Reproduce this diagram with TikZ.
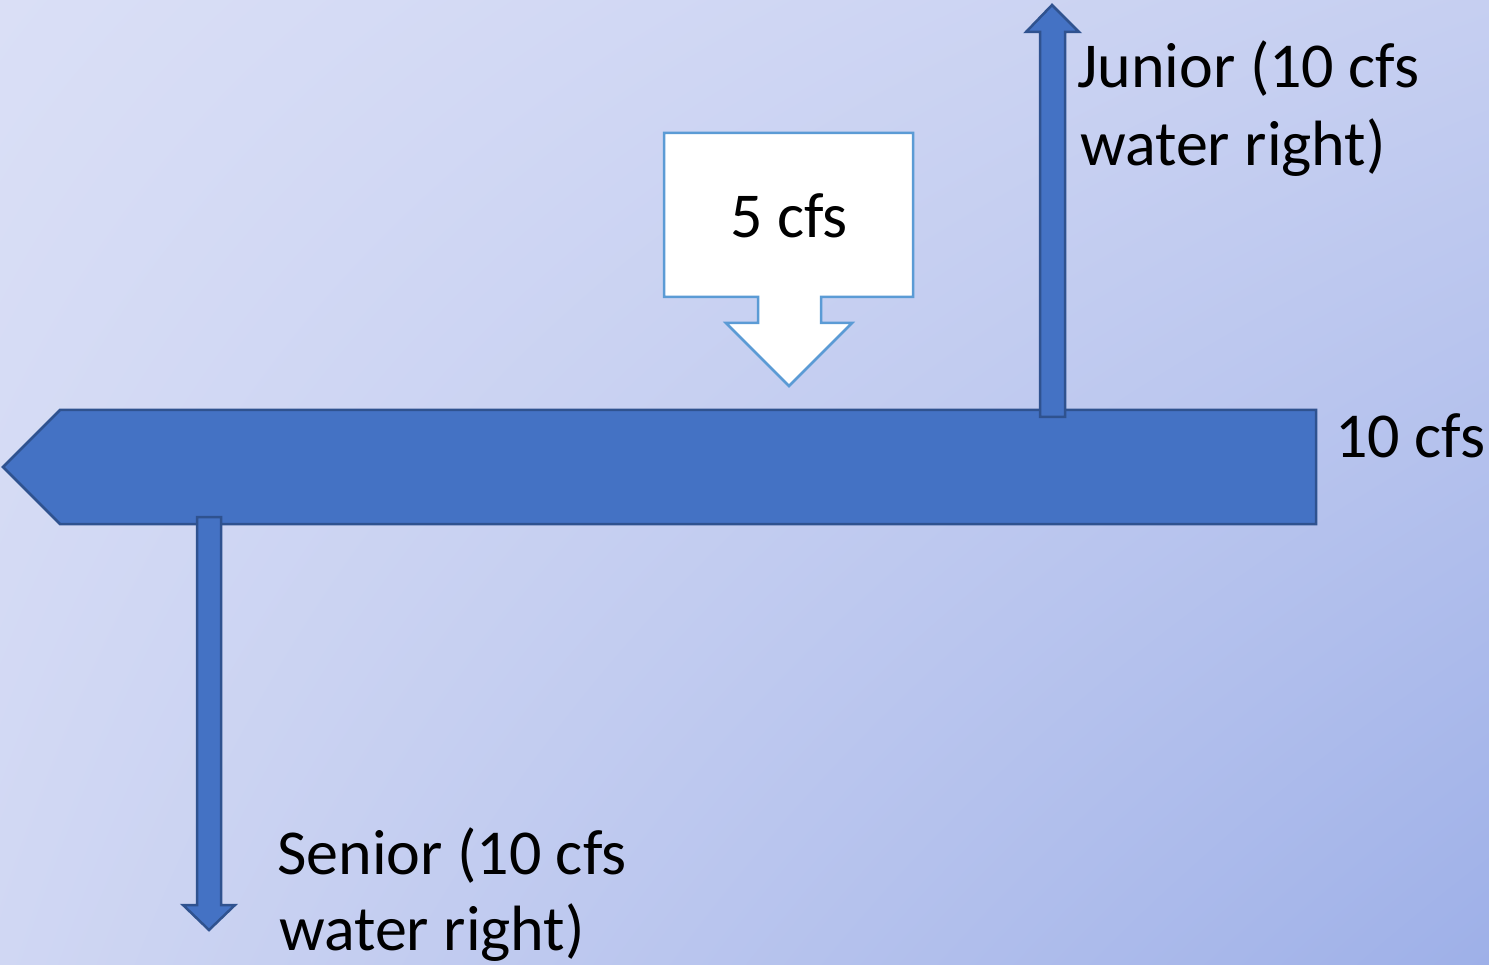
\documentclass[tikz,border=0pt]{standalone}
\usepackage{fontspec}
\setmainfont{Carlito}
\usetikzlibrary{shadings}
\definecolor{bgTL}{HTML}{DADFF6}
\definecolor{bgTR}{HTML}{C6CFF1}
\definecolor{bgBL}{HTML}{D0D7F3}
\definecolor{bgBR}{HTML}{9EB0E8}
\definecolor{arrowfill}{HTML}{4472C4}
\definecolor{arrowline}{HTML}{2F528F}
\definecolor{callline}{HTML}{5B9BD5}
\tikzset{
  bluearrow/.style={fill=arrowfill, draw=arrowline, line width=2.5pt, line join=miter},
  calloutshape/.style={fill=white, draw=callline, line width=2.5pt, line join=miter},
  label/.style={inner sep=0pt, font=\fontsize{64}{76}\selectfont, text=black},
}
\begin{document}
\begin{tikzpicture}[x=1pt,y=-1pt]
\useasboundingbox (0,0) rectangle (1489,965);
\shade[upper left=bgTL, upper right=bgTR, lower left=bgBL, lower right=bgBR] (0,0) rectangle (1489,965);
% main river arrow
\draw[bluearrow] (3,467) -- (60,410) -- (1316,410) -- (1316,524) -- (60,524) -- cycle;
% junior diversion arrow (up)
\draw[bluearrow] (1040,417) -- (1040,32) -- (1026,32) -- (1052,5) -- (1079,32) -- (1065,32) -- (1065,417) -- cycle;
% senior diversion arrow (down)
\draw[bluearrow] (197,517) -- (221,517) -- (221,905) -- (235,905) -- (209,930) -- (183,905) -- (197,905) -- cycle;
% inflow callout
\draw[calloutshape] (664,133) -- (913,133) -- (913,297) -- (821,297) -- (821,323) -- (852,323) -- (789,386) -- (726,323) -- (758,323) -- (758,297) -- (664,297) -- cycle;
\node[label, anchor=base] (inflow) at (789,238) {5 cfs};
\node[label, anchor=base west] (flow) at (1335,457) {10 cfs};
\node[label, anchor=base west] (junior1) at (1077,88) {Junior (10 cfs};
\node[label, anchor=base west] (junior2) at (1080,166) {water right)};
\node[label, anchor=base west] (senior1) at (277,874) {Senior (10 cfs};
\node[label, anchor=base west] (senior2) at (279,950) {water right)};
\end{tikzpicture}
\end{document}
